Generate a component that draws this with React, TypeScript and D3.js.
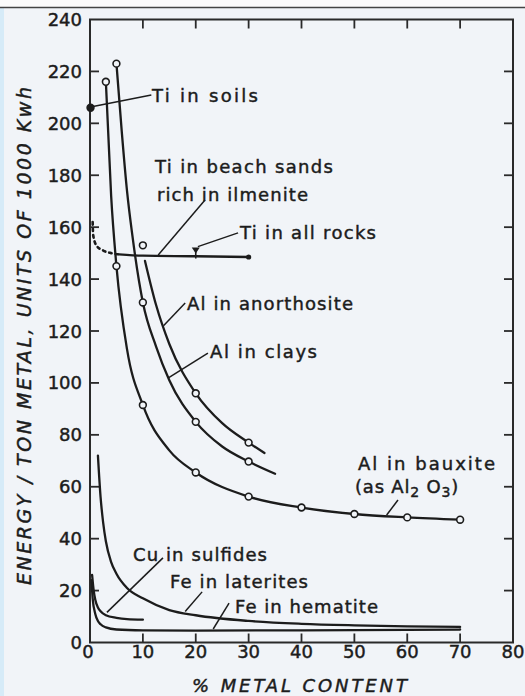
import React from "react";
import * as d3 from "d3";

// ---------- data ----------
const X_TICKS = [0, 10, 20, 30, 40, 50, 60, 70, 80];
const Y_TICKS = [0, 20, 40, 60, 80, 100, 120, 140, 160, 180, 200, 220, 240];

// Al in bauxite (as Al2O3)
const alBauxiteLine: [number, number][] = [
  [3, 216], [4, 172], [5, 145], [7, 113], [10, 91.5], [15, 74], [20, 65.5],
  [30, 56.2], [40, 52], [50, 49.5], [60, 48.2], [70, 47.3],
];
const alBauxitePts: [number, number][] = [
  [3, 216], [5, 145], [10, 91.5], [20, 65.5], [30, 56.2], [40, 52], [50, 49.5], [60, 48.2], [70, 47.3],
];

// Al in clays
const alClaysLine: [number, number][] = [
  [5, 223], [6, 197], [7, 174], [8, 157], [10, 131], [12.5, 114], [15, 101],
  [20, 85], [25, 75.5], [30, 69.7], [35, 65],
];
const alClaysPts: [number, number][] = [[5, 223], [10, 131], [20, 85], [30, 69.7]];

// Al in anorthosite
const alAnorthositeLine: [number, number][] = [
  [10.4, 147], [12.5, 130], [15, 115], [20, 96], [25, 84.5], [30, 77], [33, 73],
];
const alAnorthositePts: [number, number][] = [[10, 153], [20, 96], [30, 77]];

// Ti
const tiSoilsPts: [number, number][] = [[0.1, 206]];
const tiSandsDotted: [number, number][] = [[0.5, 162], [0.6, 157], [1.2, 153], [2.5, 151], [4, 150], [5.5, 149.5]];
const tiSandsSolid: [number, number][] = [[5.5, 149.5], [10, 149], [20, 148.8], [30, 148.5]];
const tiSandsEnd: [number, number][] = [[30, 148.5]];
const tiAllRocksPts: [number, number][] = [[20, 151]];

// Cu, Fe
const cuSulfides: [number, number][] = [
  [0.4, 26], [0.7, 20], [1, 16.5], [1.5, 13.5], [2, 12], [3, 10.5], [5, 9.5], [7, 9], [10, 8.8],
];
const feLaterites: [number, number][] = [
  [1.5, 72], [2, 56], [2.5, 46], [3, 39], [4, 31], [5, 26.5], [7, 21], [10, 17], [15, 12.5],
  [20, 10.5], [30, 8.3], [40, 7.2], [50, 6.6], [60, 6.2], [70, 6],
];
const feHematite: [number, number][] = [
  [0.3, 24], [0.5, 17], [1, 11], [1.5, 8.3], [2, 7], [3, 5.8], [5, 5], [10, 4.7], [20, 4.6], [40, 4.7], [70, 5],
];

// label texts
const LABELS = [
  "Ti in  soils",
  "Ti in beach sands",
  "rich in ilmenite",
  "Ti in all rocks",
  "Al  in  anorthosite",
  "Al  in  clays",
  "Al  in  bauxite",
  "Cu in sulfides",
  "Fe in laterites",
  "Fe in hematite",
];
const X_TITLE = "% METAL  CONTENT";
const Y_TITLE = "ENERGY / TON  METAL, UNITS OF  1000 Kwh";

// ---------- layout ----------
const W = 525;
const H = 696;
const INK = "#1c1c1c";
const FONT = "'DejaVu Sans', sans-serif";

// label layout: [startX px, baselineY px, width px]
const LABEL_POS: [number, number, number][] = [
  [152, 102, 106],
  [155, 173, 178],
  [157, 201, 151],
  [240, 239, 136],
  [187, 310, 166],
  [210, 358, 107],
  [358, 470, 137],
  [133, 561, 134],
  [170, 588, 138],
  [235, 613, 143],
];
// leader lines in data units
const LEADERS: [number, number, number, number][] = [
  [0.1, 206.3, 11.6, 210.9],
  [21.75, 170.5, 12.9, 149.3],
  [28, 157.8, 20.4, 152.5],
  [18, 130.8, 13.9, 122],
  [22.3, 111.5, 14.9, 102],
  [58.25, 54.9, 56.1, 49.1],
  [13.8, 32.6, 3.2, 11.6],
  [21.2, 19.5, 18, 11.9],
  [26.3, 15.2, 23.3, 5.2],
];

export default function App() {
  const x = d3.scaleLinear().domain([0, 80]).range([90, 513]);
  const y = d3.scaleLinear().domain([0, 240]).range([642.5, 19.5]);
  const line = d3
    .line<[number, number]>()
    .x((d) => x(d[0]))
    .y((d) => y(d[1]))
    .curve(d3.curveMonotoneX);
  const straight = d3
    .line<[number, number]>()
    .x((d) => x(d[0]))
    .y((d) => y(d[1]))
    .curve(d3.curveLinear);

  const curve = (data: [number, number][], key: string, extra: any = {}) => (
    <path key={key} d={line(data) || ""} fill="none" stroke={INK} strokeWidth={2.3} strokeLinecap="round" {...extra} />
  );
  const circles = (pts: [number, number][], key: string, filled = false) =>
    pts.map((p, i) => (
      <circle
        key={key + i}
        cx={x(p[0])}
        cy={y(p[1])}
        r={3.4}
        fill={filled ? INK : "#f1f4f8"}
        stroke={INK}
        strokeWidth={1.6}
      />
    ));

  const [x0, x1] = x.range();
  const [y0, y1] = y.range();
  const textInk = { fill: INK, stroke: INK, strokeWidth: 0.45 };

  return (
    <div style={{ position: "absolute", left: 0, top: 0 }}>
      <svg width={W} height={H} viewBox={`0 0 ${W} ${H}`} style={{ display: "block" }}>
        <rect x={0} y={0} width={W} height={H} fill="#f1f4f8" />
        <rect x={0} y={0} width={W} height={7} fill="#fbfbfb" />
        <rect x={0} y={8} width={4} height={H - 8} fill="#d6ebf8" />
        <line x1={0} x2={W} y1={7.5} y2={7.5} stroke="#444" strokeWidth={1.5} />

        {/* frame */}
        <rect x={x0} y={y1} width={x1 - x0} height={y0 - y1} fill="none" stroke="#2a2a2a" strokeWidth={2} />

        {/* ticks */}
        {X_TICKS.filter((v) => v > 0 && v < 80).map((v) => (
          <g key={"xt" + v} stroke="#2a2a2a" strokeWidth={1.8}>
            <line x1={x(v)} x2={x(v)} y1={y0} y2={y0 - 9} />
            <line x1={x(v)} x2={x(v)} y1={y1} y2={y1 + 9} />
          </g>
        ))}
        {Y_TICKS.filter((v) => v > 0 && v < 240).map((v) => (
          <g key={"yt" + v} stroke="#2a2a2a" strokeWidth={1.8}>
            <line x1={x0} x2={x0 + 9} y1={y(v)} y2={y(v)} />
            <line x1={x1} x2={x1 - 9} y1={y(v)} y2={y(v)} />
          </g>
        ))}

        {/* tick labels */}
        <g fontFamily={FONT} fontSize={18} {...textInk}>
          {X_TICKS.map((v) => (
            <text key={"xl" + v} x={x(v) - (v === 0 ? 2 : 0)} y={658} textAnchor="middle">
              {v}
            </text>
          ))}
          {Y_TICKS.map((v) => (
            <text key={"yl" + v} x={82} y={y(v) + 6.5} textAnchor="end">
              {v}
            </text>
          ))}
        </g>

        {/* axis titles */}
        <text
          x={192}
          y={692}
          fontFamily={FONT}
          fontSize={18}
          fontStyle="italic"
          {...textInk}
          textLength={215}
          lengthAdjust="spacing"
        >
          {X_TITLE}
        </text>
        <text
          transform="translate(31,585) rotate(-90)"
          x={0}
          y={0}
          fontFamily={FONT}
          fontSize={19}
          fontStyle="italic"
          {...textInk}
          textLength={498}
          lengthAdjust="spacing"
        >
          {Y_TITLE}
        </text>

        {/* curves */}
        {curve(alBauxiteLine, "baux")}
        {curve(alClaysLine, "clay")}
        {curve(alAnorthositeLine, "anor")}
        {curve(tiSandsDotted, "tid", { strokeDasharray: "2.5 4", strokeWidth: 2.6 })}
        {curve(tiSandsSolid, "tis")}
        {curve(cuSulfides, "cu")}
        {curve(feLaterites, "fel")}
        {curve(feHematite, "feh")}

        {/* markers */}
        {circles(alBauxitePts, "bp")}
        {circles(alClaysPts, "cp")}
        {circles(alAnorthositePts, "ap")}
        {circles(tiSoilsPts, "sp", true)}
        {tiSandsEnd.map((p, i) => (
          <circle key={"te" + i} cx={x(p[0])} cy={y(p[1])} r={2.6} fill={INK} />
        ))}
        {tiAllRocksPts.map((p, i) => {
          const cx = x(p[0]);
          const cy = y(p[1]);
          return (
            <g key={"tr" + i}>
              <path d={`M${cx - 4},${cy - 3} L${cx + 4},${cy - 3} L${cx},${cy + 3} Z`} fill={INK} />
              <line x1={cx} x2={cx} y1={cy} y2={cy + 8} stroke={INK} strokeWidth={1.6} />
            </g>
          );
        })}

        {/* leaders */}
        {LEADERS.map((l, i) => (
          <path
            key={"ld" + i}
            d={straight([[l[0], l[1]], [l[2], l[3]]]) || ""}
            stroke={INK}
            strokeWidth={1.5}
            fill="none"
          />
        ))}

        {/* labels */}
        <g fontFamily={FONT} fontSize={18} {...textInk}>
          {LABELS.map((t, i) => (
            <text
              key={"lb" + i}
              x={LABEL_POS[i][0]}
              y={LABEL_POS[i][1]}
              textLength={LABEL_POS[i][2]}
              lengthAdjust="spacing"
            >
              {t}
            </text>
          ))}
          <text x={355} y={493} letterSpacing={0.8}>
            (as  Al
            <tspan dy={4} fontSize={14}>2</tspan>
            <tspan dy={-4}> O</tspan>
            <tspan dy={4} fontSize={14}>3</tspan>
            <tspan dy={-4}>)</tspan>
          </text>
        </g>
      </svg>
    </div>
  );
}
